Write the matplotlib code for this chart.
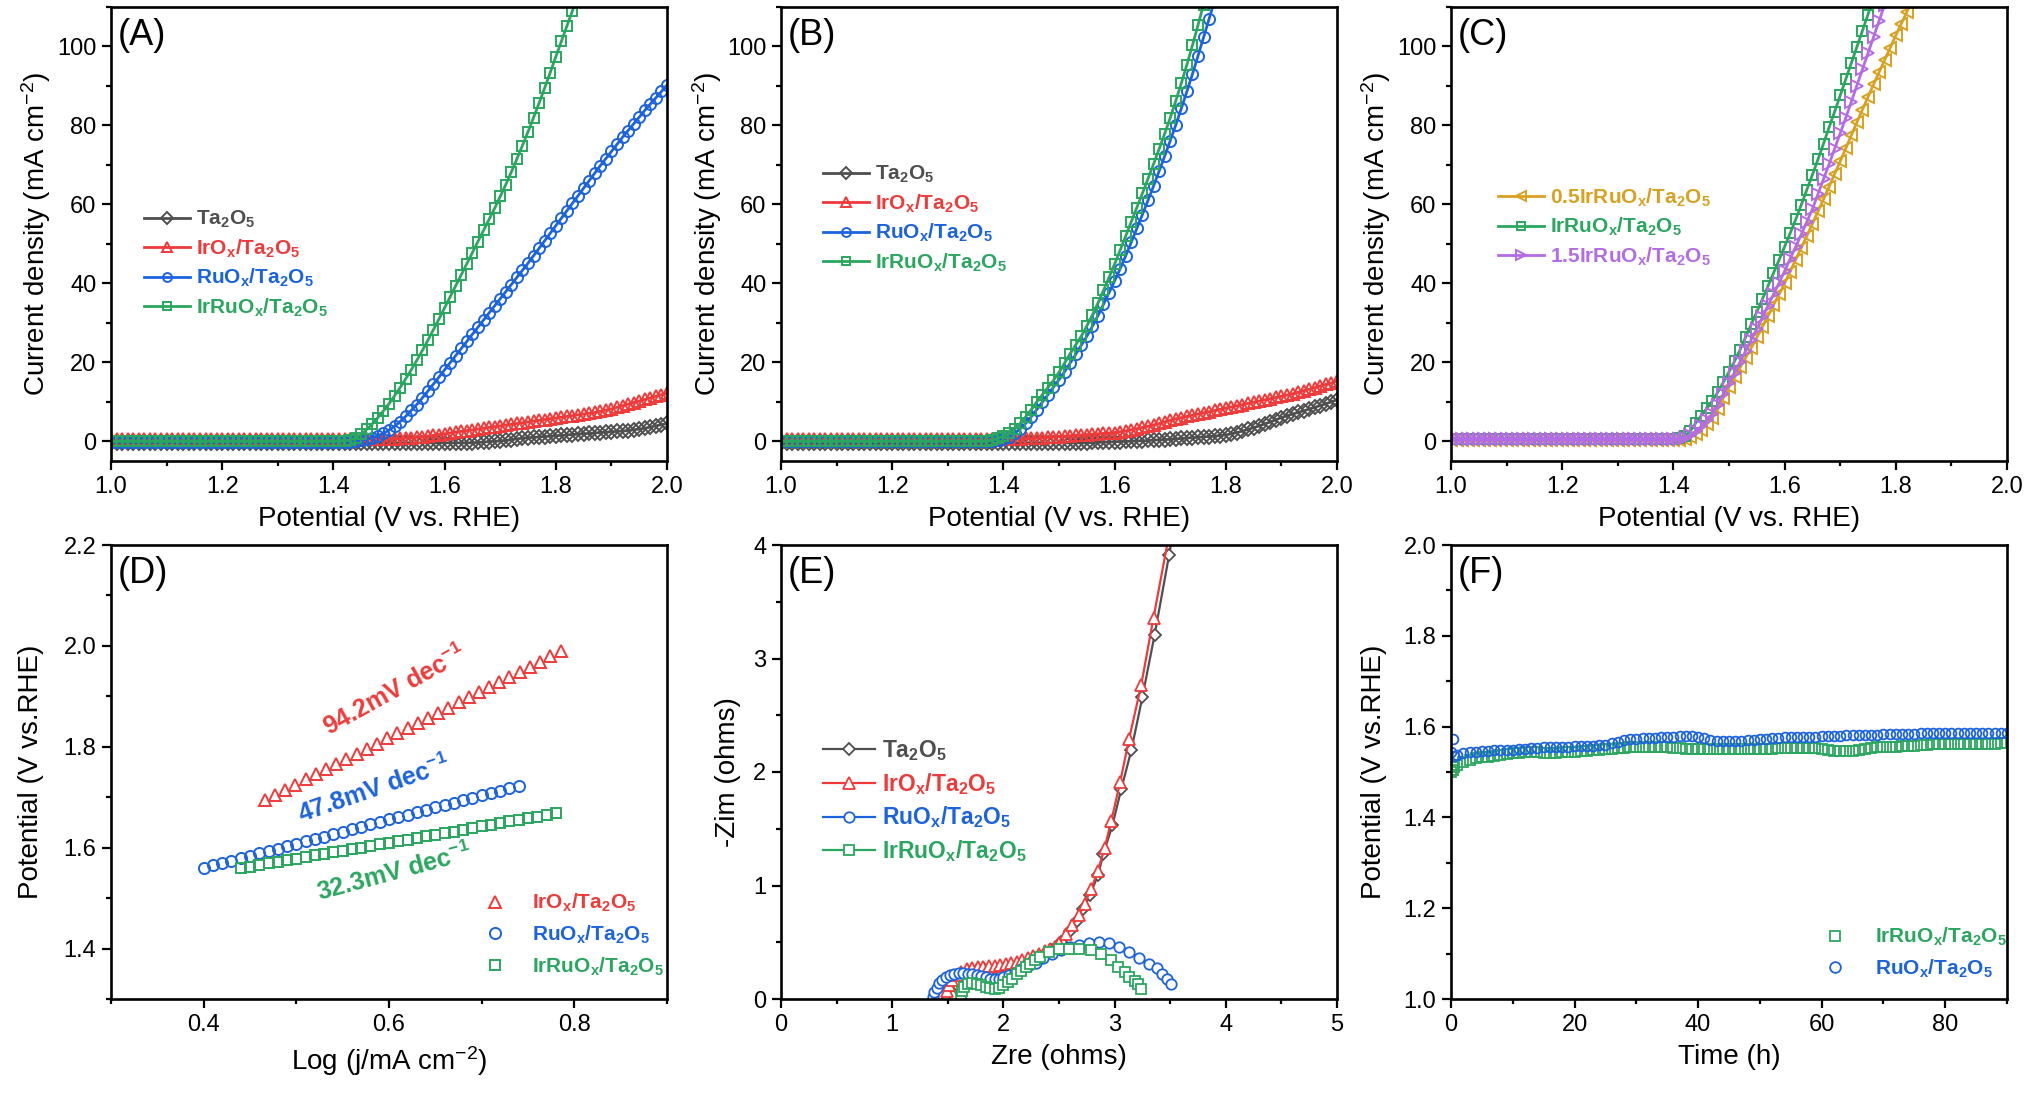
import matplotlib
matplotlib.use("Agg")
import matplotlib.pyplot as plt
from matplotlib.ticker import MultipleLocator

plt.rcParams['font.family'] = ['Liberation Sans', 'DejaVu Sans']
plt.rcParams['mathtext.fontset'] = 'custom'
plt.rcParams['mathtext.rm'] = 'Liberation Sans'
plt.rcParams['mathtext.it'] = 'Liberation Sans:italic'
plt.rcParams['mathtext.bf'] = 'Liberation Sans:bold'

# ---------------- data ----------------
# LSV sweep potential (V vs. RHE), shared by panels A-C
POTENTIAL = [1.00, 1.01, 1.02, 1.03, 1.04, 1.05, 1.06, 1.07, 1.08, 1.09,
             1.10, 1.11, 1.12, 1.13, 1.14, 1.15, 1.16, 1.17, 1.18, 1.19,
             1.20, 1.21, 1.22, 1.23, 1.24, 1.25, 1.26, 1.27, 1.28, 1.29,
             1.30, 1.31, 1.32, 1.33, 1.34, 1.35, 1.36, 1.37, 1.38, 1.39,
             1.40, 1.41, 1.42, 1.43, 1.44, 1.45, 1.46, 1.47, 1.48, 1.49,
             1.50, 1.51, 1.52, 1.53, 1.54, 1.55, 1.56, 1.57, 1.58, 1.59,
             1.60, 1.61, 1.62, 1.63, 1.64, 1.65, 1.66, 1.67, 1.68, 1.69,
             1.70, 1.71, 1.72, 1.73, 1.74, 1.75, 1.76, 1.77, 1.78, 1.79,
             1.80, 1.81, 1.82, 1.83, 1.84, 1.85, 1.86, 1.87, 1.88, 1.89,
             1.90, 1.91, 1.92, 1.93, 1.94, 1.95, 1.96, 1.97, 1.98, 1.99,
             2.00]

# (A) current density, mA cm-2
TA2O5_A = [-0.4, -0.4, -0.4, -0.4, -0.4, -0.4, -0.4, -0.4, -0.4, -0.4,
           -0.4, -0.4, -0.4, -0.4, -0.4, -0.4, -0.4, -0.4, -0.4, -0.4,
           -0.4, -0.4, -0.4, -0.4, -0.4, -0.4, -0.4, -0.4, -0.4, -0.4,
           -0.4, -0.4, -0.4, -0.4, -0.4, -0.4, -0.4, -0.4, -0.4, -0.4,
           -0.4, -0.4, -0.4, -0.4, -0.4, -0.4, -0.4, -0.4, -0.4, -0.4,
           -0.4, -0.4, -0.4, -0.4, -0.4, -0.4, -0.4, -0.4, -0.4, -0.4,
           -0.4, -0.4, -0.4, -0.4, -0.4, -0.4, -0.3, -0.2, -0.1, 0.0,
           0.1, 0.2, 0.4, 0.6, 0.8, 0.9, 1.0, 1.1, 1.2, 1.3,
           1.4, 1.5, 1.6, 1.7, 1.8, 1.9, 2.0, 2.1, 2.2, 2.3,
           2.4, 2.5, 2.6, 2.7, 2.9, 3.1, 3.3, 3.6, 3.9, 4.2,
           4.5]
IROX_A = [0.6, 0.6, 0.6, 0.6, 0.6, 0.6, 0.6, 0.6, 0.6, 0.6,
          0.6, 0.6, 0.6, 0.6, 0.6, 0.6, 0.6, 0.6, 0.6, 0.6,
          0.6, 0.6, 0.6, 0.6, 0.6, 0.6, 0.6, 0.6, 0.6, 0.6,
          0.6, 0.6, 0.6, 0.6, 0.6, 0.6, 0.6, 0.6, 0.6, 0.6,
          0.6, 0.6, 0.6, 0.6, 0.6, 0.6, 0.6, 0.6, 0.6, 0.6,
          0.6, 0.6, 0.7, 0.8, 0.9, 1.0, 1.1, 1.3, 1.5, 1.7,
          1.9, 2.1, 2.3, 2.5, 2.7, 2.9, 3.1, 3.3, 3.5, 3.7,
          3.9, 4.1, 4.3, 4.5, 4.7, 4.9, 5.1, 5.3, 5.5, 5.7,
          5.9, 6.1, 6.3, 6.5, 6.7, 6.9, 7.1, 7.3, 7.6, 7.9,
          8.2, 8.6, 9.0, 9.4, 9.8, 10.2, 10.6, 11.0, 11.4, 11.8,
          12.2]
RUOX_A = [-0.2, -0.2, -0.2, -0.2, -0.2, -0.2, -0.2, -0.2, -0.2, -0.2,
          -0.2, -0.2, -0.2, -0.2, -0.2, -0.2, -0.2, -0.2, -0.2, -0.2,
          -0.2, -0.2, -0.2, -0.2, -0.2, -0.2, -0.2, -0.2, -0.2, -0.2,
          -0.2, -0.2, -0.2, -0.2, -0.2, -0.2, -0.2, -0.2, -0.2, -0.2,
          -0.2, -0.2, -0.2, -0.2, 0.0, 0.2, 0.5, 0.9, 1.4, 2.0,
          2.8, 3.8, 5.0, 6.3, 7.8, 9.3, 11.0, 12.7, 14.5, 16.3,
          18.1, 19.9, 21.7, 23.5, 25.3, 27.1, 28.9, 30.7, 32.5, 34.3,
          36.1, 37.9, 39.7, 41.5, 43.3, 45.1, 47.0, 48.9, 50.8, 52.7,
          54.6, 56.5, 58.4, 60.3, 62.2, 64.1, 66.0, 67.9, 69.8, 71.6,
          73.4, 75.2, 77.0, 78.7, 80.4, 82.1, 83.8, 85.4, 87.0, 88.6,
          90.2]
IRRUOX_A = [0.0, 0.0, 0.0, 0.0, 0.0, 0.0, 0.0, 0.0, 0.0, 0.0,
            0.0, 0.0, 0.0, 0.0, 0.0, 0.0, 0.0, 0.0, 0.0, 0.0,
            0.0, 0.0, 0.0, 0.0, 0.0, 0.0, 0.0, 0.0, 0.0, 0.0,
            0.0, 0.0, 0.0, 0.0, 0.0, 0.0, 0.0, 0.0, 0.0, 0.0,
            0.0, 0.1, 0.1, 0.3, 0.8, 1.8, 3.0, 4.4, 6.0, 7.7,
            9.5, 11.5, 13.6, 15.8, 18.1, 20.5, 23.0, 25.6, 28.3, 31.0,
            33.8, 36.6, 39.4, 42.2, 45.0, 47.8, 50.6, 53.4, 56.2, 59.0,
            62.0, 65.0, 68.2, 71.5, 74.9, 78.4, 82.0, 85.7, 89.5, 93.4,
            97.4, 101.3, 105.2, 109.1, 113.0]

# (B) current density, mA cm-2
TA2O5_B = [-0.4, -0.4, -0.4, -0.4, -0.4, -0.4, -0.4, -0.4, -0.4, -0.4,
           -0.4, -0.4, -0.4, -0.4, -0.4, -0.4, -0.4, -0.4, -0.4, -0.4,
           -0.4, -0.4, -0.4, -0.4, -0.4, -0.4, -0.4, -0.4, -0.4, -0.4,
           -0.4, -0.4, -0.4, -0.4, -0.4, -0.4, -0.4, -0.4, -0.4, -0.4,
           -0.4, -0.4, -0.4, -0.4, -0.4, -0.4, -0.4, -0.4, -0.4, -0.4,
           -0.4, -0.4, -0.4, -0.4, -0.4, -0.4, -0.3, -0.3, -0.2, -0.2,
           -0.1, -0.1, 0.0, 0.0, 0.1, 0.1, 0.2, 0.3, 0.35, 0.4,
           0.5, 0.6, 0.7, 0.8, 0.9, 1.0, 1.1, 1.2, 1.3, 1.45,
           1.6, 1.9, 2.2, 2.6, 3.0, 3.45, 3.9, 4.4, 4.9, 5.45,
           6.0, 6.45, 6.9, 7.3, 7.7, 8.15, 8.6, 9.05, 9.5, 10.0,
           10.5]
IROX_B = [0.5, 0.5, 0.5, 0.5, 0.5, 0.5, 0.5, 0.5, 0.5, 0.5,
          0.5, 0.5, 0.5, 0.5, 0.5, 0.5, 0.5, 0.5, 0.5, 0.5,
          0.5, 0.5, 0.5, 0.5, 0.5, 0.5, 0.5, 0.5, 0.5, 0.5,
          0.5, 0.5, 0.5, 0.5, 0.5, 0.5, 0.5, 0.5, 0.5, 0.5,
          0.5, 0.5, 0.6, 0.6, 0.7, 0.7, 0.8, 0.9, 1.0, 1.1,
          1.2, 1.3, 1.4, 1.5, 1.6, 1.7, 1.8, 1.9, 2.0, 2.1,
          2.2, 2.4, 2.6, 2.9, 3.2, 3.5, 3.8, 4.1, 4.5, 4.9,
          5.3, 5.7, 6.0, 6.3, 6.6, 6.9, 7.2, 7.5, 7.8, 8.1,
          8.4, 8.7, 9.0, 9.3, 9.6, 9.9, 10.2, 10.5, 10.8, 11.1,
          11.4, 11.7, 12.0, 12.4, 12.8, 13.2, 13.6, 14.0, 14.4, 14.8,
          15.3]
RUOX_B = [0.0, 0.0, 0.0, 0.0, 0.0, 0.0, 0.0, 0.0, 0.0, 0.0,
          0.0, 0.0, 0.0, 0.0, 0.0, 0.0, 0.0, 0.0, 0.0, 0.0,
          0.0, 0.0, 0.0, 0.0, 0.0, 0.0, 0.0, 0.0, 0.0, 0.0,
          0.0, 0.0, 0.0, 0.0, 0.0, 0.0, 0.0, 0.0, 0.0, 0.3,
          0.6, 1.2, 2.0, 3.1, 4.5, 6.2, 8.0, 9.9, 11.8, 13.7,
          15.6, 17.6, 19.8, 22.0, 24.3, 26.6, 29.1, 31.8, 34.7, 37.6,
          40.6, 43.7, 47.0, 50.4, 53.9, 57.4, 61.0, 64.6, 68.4, 72.2,
          76.1, 80.1, 84.3, 88.6, 93.0, 97.6, 102.3, 107.0, 111.8]
IRRUOX_B = [0.0, 0.0, 0.0, 0.0, 0.0, 0.0, 0.0, 0.0, 0.0, 0.0,
            0.0, 0.0, 0.0, 0.0, 0.0, 0.0, 0.0, 0.0, 0.0, 0.0,
            0.0, 0.0, 0.0, 0.0, 0.0, 0.0, 0.0, 0.0, 0.0, 0.0,
            0.0, 0.0, 0.0, 0.0, 0.0, 0.0, 0.0, 0.0, 0.3, 0.7,
            1.3, 2.1, 3.0, 4.5, 6.2, 8.0, 10.0, 11.8, 13.6, 15.4,
            17.5, 19.8, 22.2, 24.4, 26.6, 29.2, 32.0, 35.0, 38.2, 41.5,
            44.9, 48.4, 52.0, 55.6, 59.2, 62.8, 66.5, 70.2, 74.0, 77.9,
            81.9, 86.2, 90.7, 95.4, 100.3, 105.4, 110.6]

# (C) current density, mA cm-2
IRRU05_C = [0.3, 0.3, 0.3, 0.3, 0.3, 0.3, 0.3, 0.3, 0.3, 0.3,
            0.3, 0.3, 0.3, 0.3, 0.3, 0.3, 0.3, 0.3, 0.3, 0.3,
            0.3, 0.3, 0.3, 0.3, 0.3, 0.3, 0.3, 0.3, 0.3, 0.3,
            0.3, 0.3, 0.3, 0.3, 0.3, 0.3, 0.3, 0.3, 0.3, 0.3,
            0.3, 0.4, 0.6, 1.0, 1.8, 2.9, 4.3, 6.0, 8.2, 11.0,
            13.7, 16.2, 18.7, 21.2, 23.7, 26.3, 29.0, 31.7, 34.5, 37.2,
            40.0, 43.0, 46.0, 49.0, 52.0, 55.1, 58.2, 61.3, 64.5, 67.7,
            70.9, 74.2, 77.5, 80.8, 84.0, 87.2, 90.4, 93.5, 96.6, 99.7,
            102.8, 105.8, 108.8, 111.8]
IRRU10_C = [0.5, 0.5, 0.5, 0.5, 0.5, 0.5, 0.5, 0.5, 0.5, 0.5,
            0.5, 0.5, 0.5, 0.5, 0.5, 0.5, 0.5, 0.5, 0.5, 0.5,
            0.5, 0.5, 0.5, 0.5, 0.5, 0.5, 0.5, 0.5, 0.5, 0.5,
            0.5, 0.5, 0.5, 0.5, 0.5, 0.5, 0.5, 0.5, 0.5, 0.5,
            0.6, 0.8, 1.3, 2.5, 4.6, 6.5, 8.3, 10.2, 12.5, 15.0,
            17.6, 20.3, 23.2, 26.4, 29.6, 32.8, 36.0, 39.3, 42.6, 45.9,
            49.3, 52.7, 56.2, 59.9, 63.7, 67.5, 71.4, 75.4, 79.5, 83.5,
            87.6, 91.7, 95.8, 99.9, 104.0, 108.1, 112.2]
IRRU15_C = [0.5, 0.5, 0.5, 0.5, 0.5, 0.5, 0.5, 0.5, 0.5, 0.5,
            0.5, 0.5, 0.5, 0.5, 0.5, 0.5, 0.5, 0.5, 0.5, 0.5,
            0.5, 0.5, 0.5, 0.5, 0.5, 0.5, 0.5, 0.5, 0.5, 0.5,
            0.5, 0.5, 0.5, 0.5, 0.5, 0.5, 0.5, 0.5, 0.5, 0.5,
            0.5, 0.6, 0.9, 1.5, 2.5, 3.8, 5.3, 7.0, 9.3, 12.0,
            14.7, 17.4, 20.1, 22.9, 25.7, 28.5, 31.4, 34.3, 37.2, 40.1,
            43.1, 46.2, 49.3, 52.4, 55.6, 58.8, 62.6, 66.4, 70.2, 74.1,
            78.0, 81.9, 86.0, 90.1, 94.2, 98.3, 102.4, 106.5, 110.6]

# (D) Tafel plots: log(j) and potential
IROX_LOGJ = [0.466, 0.477, 0.488, 0.499, 0.510, 0.521, 0.532, 0.543, 0.554, 0.565,
             0.576, 0.587, 0.598, 0.609, 0.620, 0.631, 0.642, 0.653, 0.664, 0.675,
             0.686, 0.697, 0.708, 0.719, 0.730, 0.741, 0.752, 0.763, 0.774, 0.786]
IROX_E = [1.695, 1.705, 1.715, 1.725, 1.736, 1.746, 1.756, 1.766, 1.776, 1.786,
          1.796, 1.806, 1.817, 1.827, 1.837, 1.847, 1.857, 1.867, 1.877, 1.888,
          1.898, 1.908, 1.918, 1.928, 1.938, 1.948, 1.958, 1.969, 1.979, 1.990]
RUOX_LOGJ = [0.40, 0.41, 0.42, 0.43, 0.44, 0.45, 0.46, 0.47, 0.48, 0.49,
             0.50, 0.51, 0.52, 0.53, 0.54, 0.55, 0.56, 0.57, 0.58, 0.59,
             0.60, 0.61, 0.62, 0.63, 0.64, 0.65, 0.66, 0.67, 0.68, 0.69,
             0.70, 0.71, 0.72, 0.73, 0.74]
RUOX_E = [1.560, 1.565, 1.570, 1.574, 1.579, 1.584, 1.589, 1.594, 1.598, 1.603,
          1.608, 1.613, 1.617, 1.622, 1.627, 1.632, 1.637, 1.641, 1.646, 1.651,
          1.656, 1.661, 1.665, 1.670, 1.675, 1.680, 1.684, 1.689, 1.694, 1.699,
          1.704, 1.708, 1.713, 1.718, 1.723]
IRRUOX_LOGJ = [0.44, 0.45, 0.46, 0.47, 0.48, 0.49, 0.50, 0.51, 0.52, 0.53,
               0.54, 0.55, 0.56, 0.57, 0.58, 0.59, 0.60, 0.61, 0.62, 0.63,
               0.64, 0.65, 0.66, 0.67, 0.68, 0.69, 0.70, 0.71, 0.72, 0.73,
               0.74, 0.75, 0.76, 0.77, 0.78]
IRRUOX_E = [1.559, 1.562, 1.565, 1.569, 1.572, 1.575, 1.578, 1.581, 1.585, 1.588,
            1.591, 1.594, 1.597, 1.600, 1.604, 1.607, 1.610, 1.613, 1.616, 1.620,
            1.623, 1.626, 1.629, 1.632, 1.636, 1.639, 1.642, 1.645, 1.648, 1.652,
            1.655, 1.658, 1.661, 1.664, 1.668]
TAFEL_SLOPES = ['94.2', '47.8', '32.3']

# (E) Nyquist plots, ohms
TA2O5_ZRE = [1.55, 1.58, 1.62, 1.68, 1.75, 1.83, 1.92, 2.01, 2.10, 2.19,
             2.28, 2.36, 2.44, 2.52, 2.60, 2.66, 2.72, 2.78, 2.85, 2.90,
             2.98, 3.06, 3.15, 3.25, 3.36, 3.49, 3.56]
TA2O5_ZIM = [0.03, 0.12, 0.19, 0.23, 0.25, 0.26, 0.26, 0.27, 0.28, 0.30,
             0.33, 0.37, 0.43, 0.50, 0.60, 0.69, 0.79, 0.92, 1.09, 1.28,
             1.53, 1.85, 2.19, 2.66, 3.21, 3.91, 4.30]
IROX_ZRE = [1.48, 1.49, 1.51, 1.54, 1.58, 1.62, 1.67, 1.72, 1.77, 1.82,
            1.87, 1.92, 1.97, 2.02, 2.07, 2.12, 2.17, 2.22, 2.27, 2.32,
            2.37, 2.42, 2.46, 2.50, 2.56, 2.62, 2.68, 2.73, 2.79, 2.85,
            2.91, 2.97, 3.05, 3.13, 3.24, 3.35, 3.52]
IROX_ZIM = [0.02, 0.07, 0.12, 0.17, 0.21, 0.24, 0.26, 0.27, 0.28, 0.28,
            0.29, 0.29, 0.30, 0.31, 0.32, 0.33, 0.34, 0.36, 0.38, 0.40,
            0.42, 0.44, 0.46, 0.49, 0.57, 0.65, 0.74, 0.84, 0.97, 1.13,
            1.33, 1.57, 1.91, 2.29, 2.77, 3.36, 4.25]
RUOX_ZRE = [1.37, 1.38, 1.40, 1.42, 1.45, 1.48, 1.52, 1.56, 1.60, 1.64,
            1.68, 1.72, 1.76, 1.80, 1.84, 1.88, 1.92, 1.96, 2.00, 2.05,
            2.10, 2.16, 2.22, 2.29, 2.36, 2.44, 2.52, 2.60, 2.68, 2.77,
            2.86, 2.95, 3.04, 3.13, 3.22, 3.31, 3.38, 3.43, 3.47, 3.51]
RUOX_ZIM = [0.02, 0.06, 0.10, 0.14, 0.17, 0.19, 0.21, 0.22, 0.23, 0.23,
            0.22, 0.22, 0.21, 0.20, 0.19, 0.18, 0.18, 0.18, 0.19, 0.21,
            0.23, 0.26, 0.29, 0.32, 0.36, 0.40, 0.43, 0.46, 0.48, 0.49,
            0.50, 0.49, 0.46, 0.41, 0.36, 0.31, 0.27, 0.22, 0.18, 0.13]
IRRUOX_ZRE = [1.62, 1.63, 1.65, 1.68, 1.72, 1.76, 1.80, 1.84, 1.88, 1.92,
              1.96, 2.00, 2.04, 2.08, 2.12, 2.16, 2.20, 2.24, 2.28, 2.33,
              2.41, 2.50, 2.59, 2.68, 2.79, 2.88, 2.97, 3.03, 3.09, 3.13,
              3.18, 3.21, 3.24]
IRRUOX_ZIM = [0.03, 0.07, 0.11, 0.13, 0.14, 0.13, 0.12, 0.11, 0.10, 0.09,
              0.10, 0.12, 0.15, 0.18, 0.22, 0.25, 0.28, 0.31, 0.34, 0.37,
              0.41, 0.44, 0.44, 0.44, 0.43, 0.40, 0.34, 0.28, 0.24, 0.19,
              0.16, 0.13, 0.09]

# (F) chronopotentiometry
TIME_H = [0, 0.25, 0.5, 1, 2, 3, 4, 5, 6, 7, 8, 9,
          10, 11, 12, 13, 14, 15, 16, 17, 18, 19,
          20, 21, 22, 23, 24, 25, 26, 27, 28, 29,
          30, 31, 32, 33, 34, 35, 36, 37, 38, 39,
          40, 41, 42, 43, 44, 45, 46, 47, 48, 49,
          50, 51, 52, 53, 54, 55, 56, 57, 58, 59,
          60, 61, 62, 63, 64, 65, 66, 67, 68, 69,
          70, 71, 72, 73, 74, 75, 76, 77, 78, 79,
          80, 81, 82, 83, 84, 85, 86, 87, 88, 89,
          90]
IRRUOX_F = [1.500, 1.505, 1.510, 1.515, 1.522, 1.527, 1.530, 1.532, 1.534, 1.536, 1.538, 1.540,
            1.541, 1.542, 1.543, 1.543, 1.543, 1.542, 1.542, 1.542, 1.543, 1.544,
            1.545, 1.546, 1.547, 1.548, 1.549, 1.550, 1.551, 1.552, 1.553, 1.554,
            1.554, 1.555, 1.555, 1.555, 1.555, 1.554, 1.553, 1.552, 1.551, 1.550,
            1.550, 1.550, 1.550, 1.550, 1.550, 1.550, 1.550, 1.550, 1.550, 1.551,
            1.551, 1.551, 1.551, 1.552, 1.552, 1.552, 1.553, 1.553, 1.553, 1.552,
            1.551, 1.549, 1.547, 1.546, 1.546, 1.547, 1.549, 1.551, 1.553, 1.554,
            1.555, 1.556, 1.556, 1.557, 1.557, 1.558, 1.559, 1.560, 1.561, 1.561,
            1.562, 1.562, 1.562, 1.561, 1.561, 1.561, 1.561, 1.562, 1.562, 1.563,
            1.564]
RUOX_F = [1.545, 1.572, 1.535, 1.538, 1.542, 1.544, 1.545, 1.546, 1.547, 1.548, 1.548, 1.549,
          1.549, 1.550, 1.551, 1.552, 1.553, 1.554, 1.555, 1.555, 1.556, 1.556,
          1.557, 1.557, 1.558, 1.558, 1.559, 1.560, 1.563, 1.567, 1.570, 1.572,
          1.573, 1.574, 1.575, 1.575, 1.576, 1.577, 1.578, 1.579, 1.580, 1.580,
          1.578, 1.574, 1.571, 1.569, 1.568, 1.568, 1.568, 1.569, 1.570, 1.571,
          1.572, 1.573, 1.574, 1.575, 1.576, 1.577, 1.577, 1.578, 1.578, 1.578,
          1.579, 1.579, 1.579, 1.580, 1.581, 1.582, 1.582, 1.582, 1.582, 1.582,
          1.583, 1.583, 1.583, 1.583, 1.584, 1.584, 1.585, 1.585, 1.585, 1.585,
          1.585, 1.585, 1.585, 1.585, 1.586, 1.586, 1.586, 1.587, 1.587, 1.587,
          1.587]

# ---------------- style ----------------
GRAY = '#4f4f4f'
RED = '#f03a3a'
BLUE = '#1c63df'
GREEN = '#2aa75e'
ORANGE = '#d9a11f'
PURPLE = '#b46ce6'

LBL_TA2O5 = r'Ta$_\mathbf{2}$O$_\mathbf{5}$'
LBL_IROX = r'IrO$_\mathbf{x}$/Ta$_\mathbf{2}$O$_\mathbf{5}$'
LBL_RUOX = r'RuO$_\mathbf{x}$/Ta$_\mathbf{2}$O$_\mathbf{5}$'
LBL_IRRUOX = r'IrRuO$_\mathbf{x}$/Ta$_\mathbf{2}$O$_\mathbf{5}$'
LBL_05 = r'0.5IrRuO$_\mathbf{x}$/Ta$_\mathbf{2}$O$_\mathbf{5}$'
LBL_15 = r'1.5IrRuO$_\mathbf{x}$/Ta$_\mathbf{2}$O$_\mathbf{5}$'

TICK_FS = 17
LABEL_FS = 20

fig = plt.figure(figsize=(20.42, 10.93), dpi=100)

W, H = 2042.0, 1093.0


def make_axes(left, top, width=556, height=454):
    return fig.add_axes([left / W, (H - top - height) / H, width / W, height / H])


def style_axes(ax, xlim, ylim, xmaj, xmin, ymaj, ymin, xlabel, ylabel, letter, ylab_x):
    ax.set_xlim(*xlim)
    ax.set_ylim(*ylim)
    ax.xaxis.set_major_locator(MultipleLocator(xmaj))
    ax.xaxis.set_minor_locator(MultipleLocator(xmin))
    ax.yaxis.set_major_locator(MultipleLocator(ymaj))
    ax.yaxis.set_minor_locator(MultipleLocator(ymin))
    ax.tick_params(which='both', direction='out', top=False, right=False,
                   width=1.6, labelsize=TICK_FS)
    ax.tick_params(which='major', length=6.5, pad=4)
    ax.tick_params(which='minor', length=3.5)
    for sp in ax.spines.values():
        sp.set_linewidth(1.9)
    ax.set_xlabel(xlabel, fontsize=LABEL_FS, labelpad=6)
    ax.set_ylabel(ylabel, fontsize=LABEL_FS)
    ax.yaxis.set_label_coords(ylab_x, 0.5)
    ax.text(0.012, 0.975, letter, transform=ax.transAxes, fontsize=26,
            va='top', ha='left')


def lsv(ax, y, color, marker, label, ms=8.5):
    ax.plot(POTENTIAL[:len(y)], y, color=color, lw=2, marker=marker, ms=ms,
            mfc='none', mec=color, mew=1.4, label=label)


def lsv_legend(ax, anchor):
    ax.legend(loc='center left', bbox_to_anchor=anchor, frameon=False,
              prop={'weight': 'bold', 'size': 15}, labelcolor='linecolor',
              handlelength=2.2, handletextpad=0.3, labelspacing=0.35,
              markerscale=0.8, borderaxespad=0, borderpad=0)


j_label = r'Current density (mA cm$^{-2}$)'
pot_label = 'Potential (V vs. RHE)'

# (A)
ax = make_axes(111, 7)
lsv(ax, TA2O5_A, GRAY, 'D', LBL_TA2O5, ms=7.5)
lsv(ax, IROX_A, RED, '^', LBL_IROX)
lsv(ax, RUOX_A, BLUE, 'o', LBL_RUOX, ms=8)
lsv(ax, IRRUOX_A, GREEN, 's', LBL_IRRUOX, ms=7.5)
style_axes(ax, (1.0, 2.0), (-5, 110), 0.2, 0.1, 20, 10, pot_label, j_label, '(A)', -0.104)
lsv_legend(ax, (0.06, 0.434))

# (B)
ax = make_axes(781, 7)
lsv(ax, TA2O5_B, GRAY, 'D', LBL_TA2O5, ms=7.5)
lsv(ax, IROX_B, RED, '^', LBL_IROX)
lsv(ax, RUOX_B, BLUE, 'o', LBL_RUOX, ms=8)
lsv(ax, IRRUOX_B, GREEN, 's', LBL_IRRUOX, ms=7.5)
style_axes(ax, (1.0, 2.0), (-5, 110), 0.2, 0.1, 20, 10, pot_label, j_label, '(B)', -0.102)
lsv_legend(ax, (0.075, 0.533))

# (C)
ax = make_axes(1451, 7)
lsv(ax, IRRU05_C, ORANGE, '<', LBL_05)
lsv(ax, IRRU10_C, GREEN, 's', LBL_IRRUOX, ms=7.5)
lsv(ax, IRRU15_C, PURPLE, '>', LBL_15)
style_axes(ax, (1.0, 2.0), (-5, 110), 0.2, 0.1, 20, 10, pot_label, j_label, '(C)', -0.104)
lsv_legend(ax, (0.085, 0.515))

# (D)
ax = make_axes(111, 545)
ax.plot(IROX_LOGJ, IROX_E, ls='none', marker='^', ms=8.5, mfc='none', mec=RED,
        mew=1.4, color=RED, label=LBL_IROX)
ax.plot(RUOX_LOGJ, RUOX_E, ls='none', marker='o', ms=8, mfc='none', mec=BLUE,
        mew=1.4, color=BLUE, label=LBL_RUOX)
ax.plot(IRRUOX_LOGJ, IRRUOX_E, ls='none', marker='s', ms=7, mfc='none', mec=GREEN,
        mew=1.4, color=GREEN, label=LBL_IRRUOX)
style_axes(ax, (0.3, 0.9), (1.3, 2.2), 0.2, 0.1, 0.2, 0.1,
           r'Log (j/mA cm$^{-2}$)', 'Potential (V vs.RHE)', '(D)', -0.12)
ax.text(0.606, 1.911, TAFEL_SLOPES[0] + r'mV dec$^\mathbf{-1}$', color=RED,
        fontsize=18, fontweight='bold', rotation=29, ha='center', va='center')
ax.text(0.584, 1.716, TAFEL_SLOPES[1] + r'mV dec$^\mathbf{-1}$', color=BLUE,
        fontsize=18, fontweight='bold', rotation=19, ha='center', va='center')
ax.text(0.606, 1.550, TAFEL_SLOPES[2] + r'mV dec$^\mathbf{-1}$', color=GREEN,
        fontsize=18, fontweight='bold', rotation=15, ha='center', va='center')
ax.legend(loc='lower right', bbox_to_anchor=(0.995, 0.047), frameon=False,
          prop={'weight': 'bold', 'size': 15}, labelcolor='linecolor',
          handlelength=1.0, handletextpad=1.3, labelspacing=0.45,
          borderaxespad=0, borderpad=0)

# (E)
ax = make_axes(781, 545)
ax.plot(TA2O5_ZRE, TA2O5_ZIM, color=GRAY, lw=1.6, marker='D', ms=6.5, mfc='white',
        mec=GRAY, mew=1.3, label=LBL_TA2O5)
ax.plot(IROX_ZRE, IROX_ZIM, color=RED, lw=1.6, marker='^', ms=8, mfc='white',
        mec=RED, mew=1.3, label=LBL_IROX)
ax.plot(RUOX_ZRE, RUOX_ZIM, color=BLUE, lw=1.6, marker='o', ms=7.5, mfc='white',
        mec=BLUE, mew=1.3, label=LBL_RUOX)
ax.plot(IRRUOX_ZRE, IRRUOX_ZIM, color=GREEN, lw=1.6, marker='s', ms=7, mfc='white',
        mec=GREEN, mew=1.3, label=LBL_IRRUOX)
style_axes(ax, (0, 5), (0, 4), 1, 0.5, 1, 0.5, 'Zre (ohms)', '-Zim (ohms)', '(E)', -0.072)
ax.legend(loc='center left', bbox_to_anchor=(0.075, 0.436), frameon=False,
          prop={'weight': 'bold', 'size': 16.5}, labelcolor='linecolor',
          handlelength=2.3, handletextpad=0.3, labelspacing=0.35,
          borderaxespad=0, borderpad=0)

# (F)
ax = make_axes(1451, 545)
ax.plot(TIME_H, IRRUOX_F, ls='none', marker='s', ms=6.5, mfc='none', mec=GREEN,
        mew=1.3, color=GREEN, label=LBL_IRRUOX)
ax.plot(TIME_H, RUOX_F, ls='none', marker='o', ms=7, mfc='none', mec=BLUE,
        mew=1.3, color=BLUE, label=LBL_RUOX)
style_axes(ax, (0, 90), (1.0, 2.0), 20, 10, 0.2, 0.1, 'Time (h)',
           'Potential (V vs.RHE)', '(F)', -0.115)
ax.legend(loc='lower right', bbox_to_anchor=(1.0, 0.042), frameon=False,
          prop={'weight': 'bold', 'size': 15}, labelcolor='linecolor',
          handlelength=1.0, handletextpad=1.4, labelspacing=0.45,
          markerscale=1.1, borderaxespad=0, borderpad=0)

fig.savefig('out.png', dpi=100)
